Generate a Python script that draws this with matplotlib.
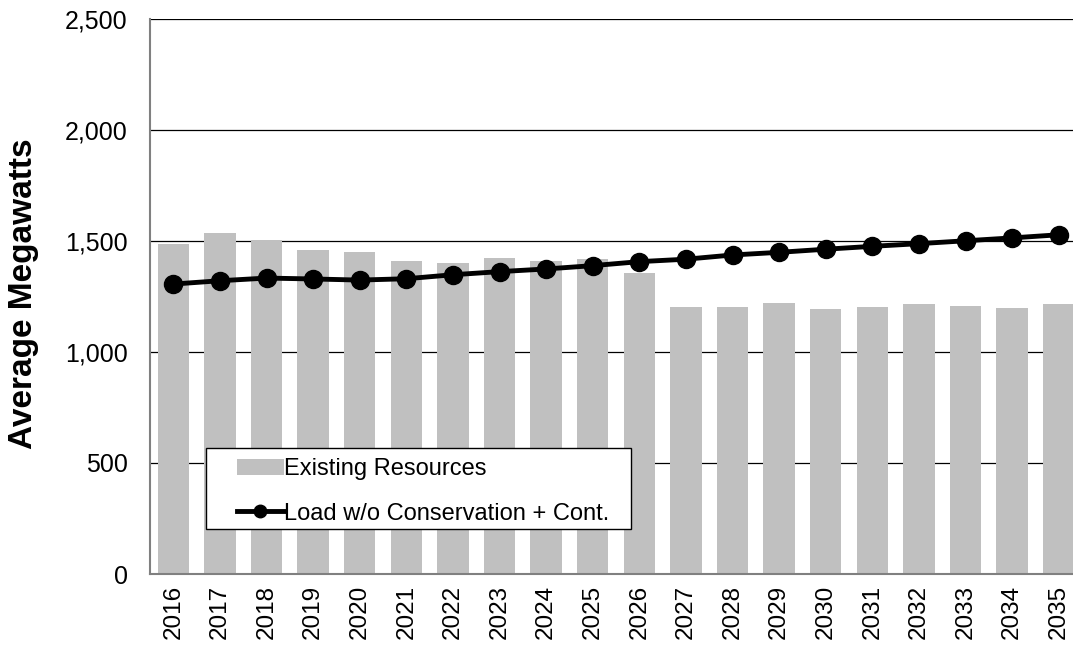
import numpy as np
import matplotlib.pyplot as plt
from matplotlib.patches import Rectangle
from matplotlib.ticker import FuncFormatter

plt.rcParams['font.family'] = ['Liberation Sans', 'DejaVu Sans']

years = [str(y) for y in range(2016, 2036)]
existing = [1486, 1537, 1506, 1459, 1450, 1410, 1400, 1422, 1408, 1417,
            1355, 1201, 1203, 1221, 1195, 1203, 1216, 1207, 1197, 1216]
load = [1306, 1321, 1333, 1329, 1324, 1330, 1348, 1362, 1374, 1389,
        1407, 1418, 1437, 1449, 1463, 1476, 1488, 1501, 1514, 1528]

fig = plt.figure(figsize=(10.73, 6.48), dpi=100)
# plot area runs a little past the right edge, like the original
ax = fig.add_axes([150 / 1073, 74 / 648, 932 / 1073, 555 / 648])

x = np.arange(len(years))
bars = ax.bar(x, existing, width=0.67, color='#c0c0c0', label='Existing Resources', zorder=2)
line, = ax.plot(x, load, color='black', lw=3.5, marker='o', markersize=13,
                label='Load w/o Conservation + Cont.', zorder=3)

ax.set_xlim(-0.5, len(years) - 0.5)
ax.set_ylim(0, 2500)
ax.set_yticks(range(0, 2501, 500))
ax.yaxis.set_major_formatter(FuncFormatter(lambda v, p: f'{int(v):,}'))
ax.set_xticks(x)
ax.set_xticklabels(years, rotation=90, fontsize=17.5)
ax.tick_params(axis='y', labelsize=18, length=0, pad=16)
ax.tick_params(axis='x', length=0, pad=8)
ax.yaxis.grid(True, color='black', lw=0.9, zorder=0)
ax.set_axisbelow(True)

for s in ['top', 'right']:
    ax.spines[s].set_visible(False)
for s in ['left', 'bottom']:
    ax.spines[s].set_color('#808080')
    ax.spines[s].set_linewidth(1.5)

ax.set_ylabel('Average Megawatts', fontsize=24, fontweight='bold')
ax.yaxis.set_label_coords(-0.119, 0.505)

# legend box drawn by hand so the padding matches
ax.add_patch(Rectangle((0.06, 0.081), 0.456, 0.146, transform=ax.transAxes,
                       facecolor='white', edgecolor='black', lw=1.0, zorder=6))
leg = ax.legend([bars, line], ['Existing Resources', 'Load w/o Conservation + Cont.'],
                loc='center left', bbox_to_anchor=(0.093, 0.149),
                fontsize=17, frameon=False, handlelength=2.0,
                handletextpad=0.0, borderpad=0, borderaxespad=0,
                labelspacing=0.95)
leg.set_zorder(7)
leg.legend_handles[1].set_markersize(9)

fig.savefig('out.png', dpi=100)
